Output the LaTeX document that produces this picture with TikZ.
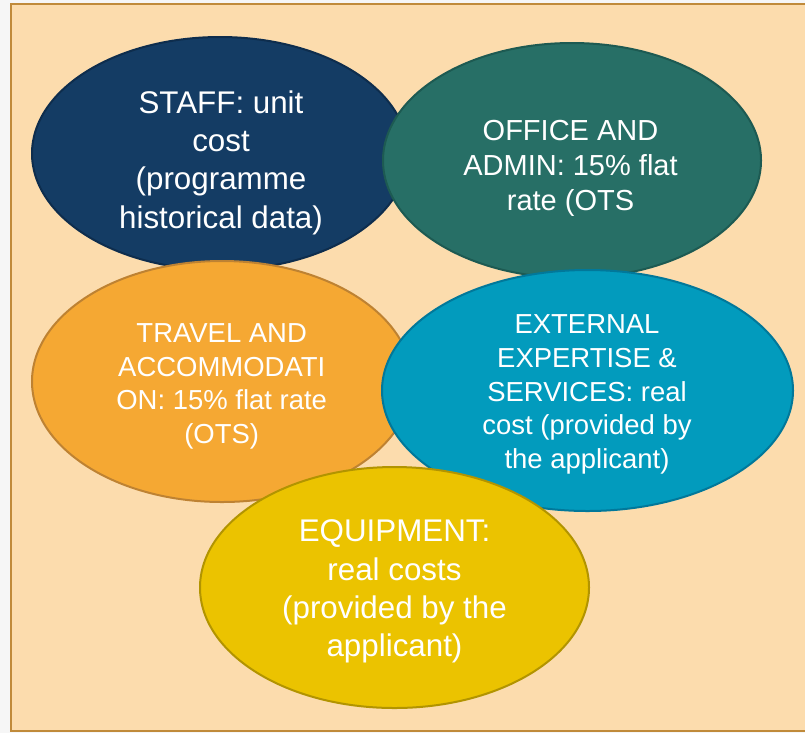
\documentclass[tikz,border=0pt]{standalone}
\usepackage{fontspec}
\setmainfont{Liberation Sans}
\usetikzlibrary{shapes.geometric}
\newdimen\pxu \pxu=0.75pt
\definecolor{outsidegray}{HTML}{F6F6F6}
\definecolor{peach}{HTML}{FCDCAD}
\definecolor{framec}{HTML}{C08A3A}
\definecolor{staffc}{HTML}{143C64}
\definecolor{staffb}{HTML}{0E2D4D}
\definecolor{officec}{HTML}{276F66}
\definecolor{officeb}{HTML}{1D5A52}
\definecolor{travelc}{HTML}{F5A833}
\definecolor{travelb}{HTML}{BE8232}
\definecolor{extc}{HTML}{029BBD}
\definecolor{extb}{HTML}{01789A}
\definecolor{equipc}{HTML}{EBC300}
\definecolor{equipb}{HTML}{B29400}
\tikzset{
  blob/.style={ellipse, inner sep=0pt, line width=1.5pt},
  lbl/.style={text=white, align=center, anchor=base, inner sep=0pt},
  bigtxt/.style={font=\fontsize{23.5pt}{28.7pt}\selectfont},
  midtxt/.style={font=\fontsize{21.75pt}{26.5pt}\selectfont},
  smalltxt/.style={font=\fontsize{20.6pt}{25.2pt}\selectfont},
}
\begin{document}
\begin{tikzpicture}[x=0.75pt,y=-0.75pt]
\useasboundingbox (0,0) rectangle (805,733);
\fill[outsidegray] (0,0) rectangle (805,733);
\draw[framec, fill=peach, line width=1.5pt] (10.5,3.5) rectangle (815,731);
% ellipses
\node[blob, fill=staffc, draw=staffb, minimum width=376\pxu, minimum height=233\pxu] (staff) at (220,153.5) {};
\node[blob, fill=officec, draw=officeb, minimum width=378\pxu, minimum height=235\pxu] (office) at (572,160.5) {};
\node[blob, fill=travelc, draw=travelb, minimum width=380\pxu, minimum height=241\pxu] (travel) at (222,381.5) {};
\node[blob, fill=extc, draw=extb, minimum width=411\pxu, minimum height=241\pxu] (ext) at (587.5,390.5) {};
\node[blob, fill=equipc, draw=equipb, minimum width=389\pxu, minimum height=241\pxu] (equip) at (394.5,587.5) {};
% texts (base anchor = baseline of the last line)
\node[lbl, bigtxt] (stafft) at (221,228) {STAFF: unit\\cost\\(programme\\historical data)};
\node[lbl, midtxt] (officet) at (570.5,210.7) {OFFICE AND\\ADMIN: 15\% flat\\rate (OTS};
\node[lbl, smalltxt] (travelt) at (221.7,443.3) {TRAVEL AND\\ACCOMMODATI\\ON: 15\% flat rate\\(OTS)};
\node[lbl, smalltxt] (extt) at (587,468.3) {EXTERNAL\\EXPERTISE \&\\SERVICES: real\\cost (provided by\\the applicant)};
\node[lbl, bigtxt] (equipt) at (394.5,656.7) {EQUIPMENT:\\real costs\\(provided by the\\applicant)};
\end{tikzpicture}
\end{document}
